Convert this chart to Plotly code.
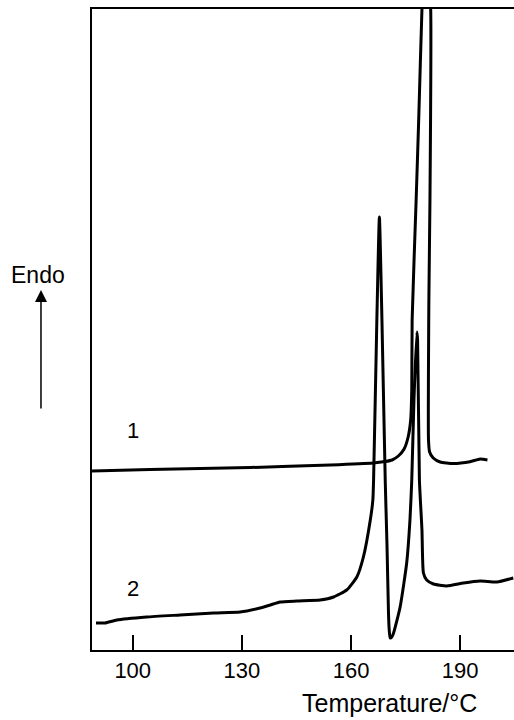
import plotly.graph_objects as go

# Curve 1 (temperature in °C, endothermic signal in arbitrary units)
t1 = [88.8, 104.8, 132.3, 154.3, 166.1, 169.4, 171.3, 173.0, 174.6, 175.7, 176.4, 176.7, 176.8,
      177.9, 178.6, 179.5, 180.5, 181.9, 181.7, 181.4, 181.3, 181.6, 182.6, 184.5, 188.1,
      192.7, 195.5, 197.5]
y1 = [179, 180.5, 182.5, 185, 187, 188.5, 190, 194, 201, 213, 230, 260, 330,
      450, 530, 641, 730, 641, 450, 350, 210, 198, 192, 188, 186.5,
      188.3, 191, 190]

# Curve 2
t2 = [89.9, 92.4, 95.6, 103.8, 113.0, 122.2, 129.5, 135.0, 137.8, 140.5, 145.1, 151.5, 155.2,
      158.8, 161.6, 163.4, 165.3, 166.0, 166.2, 167.1, 167.8, 168.5, 169.4, 169.9, 170.3,
      170.5, 170.75, 171.2, 171.7, 173.5, 175.3, 176.2, 176.7, 177.3, 178.1, 178.3, 178.8,
      179.5, 179.9, 180.8, 182.65, 186.3, 190.9, 195.5, 200.1, 204.6]
y2 = [27, 27, 30, 33, 35, 37, 38, 42, 45, 48, 49, 50, 53,
      60, 73, 93, 130, 150, 170, 330, 433, 330, 170, 103, 37,
      20, 12, 13, 17, 43, 87, 130, 170, 250, 318, 310, 170,
      120, 77, 70, 66, 64, 67, 69, 68, 72]

tick_vals = [100, 130, 160, 190]
tick_text = ["100", "130", "160", "190"]
curve_labels = ["1", "2"]
label_pos_t = [100, 100]
label_pos_y = [220, 62]

FONT = "Liberation Sans"

fig = go.Figure()
fig.add_trace(go.Scatter(x=t1, y=y1, mode="lines",
                         line=dict(color="black", width=3, shape="spline", smoothing=0.5),
                         showlegend=False, hoverinfo="skip"))
fig.add_trace(go.Scatter(x=t2, y=y2, mode="lines",
                         line=dict(color="black", width=3, shape="spline", smoothing=0.5),
                         showlegend=False, hoverinfo="skip"))

for lab, tx, ty in zip(curve_labels, label_pos_t, label_pos_y):
    fig.add_annotation(x=tx, y=ty, xref="x", yref="y", text=lab, showarrow=False,
                       xanchor="center", yanchor="middle",
                       font=dict(family=FONT, size=22, color="black"))

# Endo label and arrow
fig.add_annotation(x=-0.128, y=0.585, xref="paper", yref="paper", text="Endo", showarrow=False,
                   xanchor="center", yanchor="middle",
                   font=dict(family=FONT, size=23, color="black"))
fig.add_annotation(x=-0.1209, y=0.5616, xref="paper", yref="paper", text="", showarrow=True,
                   ax=0, ay=120, arrowhead=2, arrowsize=1.6, arrowwidth=1.5, arrowcolor="black")

# X-axis title
fig.add_annotation(x=0.705, y=-0.082, xref="paper", yref="paper", text="Temperature/°C",
                   showarrow=False, xanchor="center", yanchor="middle",
                   font=dict(family=FONT, size=25, color="black"))

fig.update_layout(
    width=514, height=720,
    margin=dict(l=92, r=0, t=9, b=70),
    paper_bgcolor="white", plot_bgcolor="white",
    xaxis=dict(range=[88.8, 204.8], tickvals=tick_vals, ticktext=tick_text,
               ticks="inside", ticklen=15, tickwidth=2, tickcolor="black",
               showline=True, linewidth=2, linecolor="black", mirror=True,
               showgrid=False, zeroline=False,
               tickfont=dict(family=FONT, size=22, color="black")),
    yaxis=dict(range=[0, 641], showticklabels=False, ticks="",
               showline=True, linewidth=2, linecolor="black", mirror=False,
               showgrid=False, zeroline=False),
)

fig.write_html("out.html")
